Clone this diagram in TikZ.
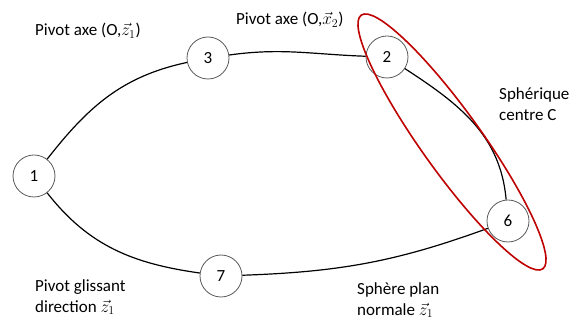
\documentclass[tikz,border=0pt]{standalone}
\usepackage{fontspec}
\setmainfont{Carlito}
\begin{document}
\begin{tikzpicture}[x=1pt,y=-1pt,
  part/.style={circle,draw=black!65,line width=0.8pt,minimum size=42pt,inner sep=0pt,font=\fontsize{17}{18}\selectfont},
  link/.style={line width=1.2pt,black},
  lbl/.style={font=\fontsize{17}{21}\selectfont,align=left,inner sep=0pt}]
\useasboundingbox (0,0) rectangle (582,320);
\node[part] (n1) at (34,176) {1};
\node[part] (n3) at (208,58) {3};
\node[part] (n2) at (387,57) {2};
\node[part] (n6) at (508,221) {6};
\node[part] (n7) at (221,276) {7};
\draw[link] (n1) to[out=52,in=192] (n3);
\draw[link] (n3) to[out=8,in=178] (n2);
\draw[link] (n2) to[out=-33,in=95] (n6);
\draw[link] (n1) to[out=-52,in=172] (n7);
\draw[link] (n7) to[out=2,in=200] (n6);
\draw[line width=1.6pt,red!75!black,rotate around={-54.4:(452,142)}] (452,142) ellipse [x radius=156, y radius=30];
\node[lbl,anchor=west] (l3) at (35,31) {Pivot axe (O,$\vec{z}_1$)};
\node[lbl,anchor=west] (l2) at (236,20) {Pivot axe (O,$\vec{x}_2$)};
\node[lbl,anchor=west] (l6) at (499,104) {Sphérique\\centre C};
\node[lbl,anchor=west] (l1) at (35,297) {Pivot glissant\\direction $\vec{z}_1$};
\node[lbl,anchor=west] (l7) at (357,300) {Sphère plan\\normale $\vec{z}_1$};
\end{tikzpicture}
\end{document}
